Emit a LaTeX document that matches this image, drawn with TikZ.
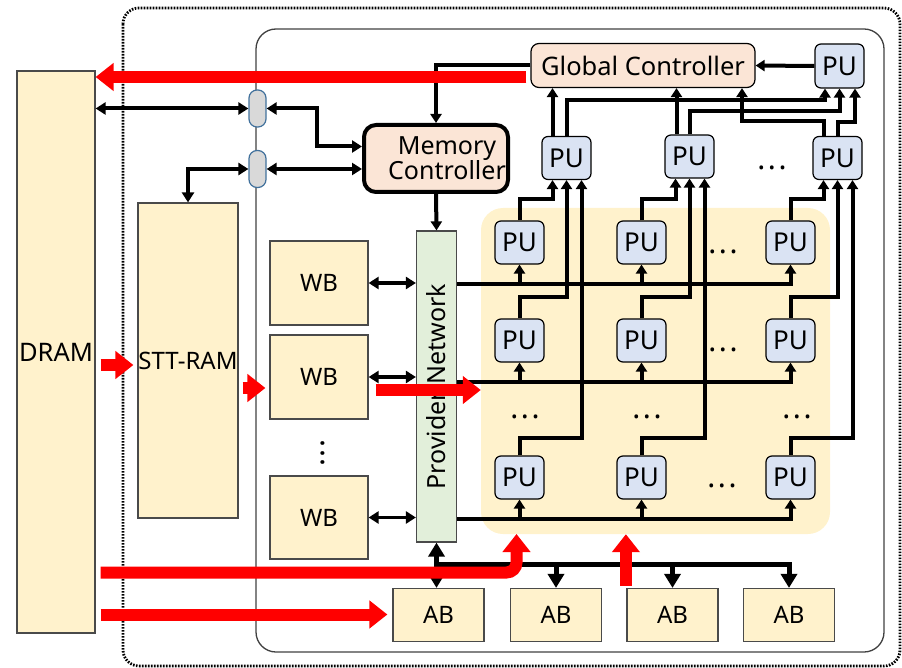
\documentclass[tikz,border=0pt]{standalone}
\usepackage{fontspec}
\setmainfont{Noto Sans}
\usepackage{graphicx}
\usetikzlibrary{arrows.meta}
\definecolor{bufyellow}{HTML}{FFF2CC}
\definecolor{ctrlpink}{HTML}{FBE5D6}
\definecolor{publue}{HTML}{DAE3F3}
\definecolor{netgreen}{HTML}{E2EFDA}
\definecolor{portgray}{HTML}{D9D9D9}
\definecolor{portedge}{HTML}{41719C}
\definecolor{boxedge}{HTML}{4A4A4A}
\newcommand{\bigfont}{\fontsize{24}{25}\selectfont}
\newcommand{\threedots}[1][2.5pt]{{\fontsize{30}{30}\bfseries.\kern#1.\kern#1.}}

\begin{document}
\begin{tikzpicture}[x=1pt,y=-1pt,font=\bigfont,every node/.style={inner sep=0pt},
  membox/.style={draw=boxedge,line width=1.2pt,fill=bufyellow},
  pu/.style={draw,line width=1.2pt,fill=publue,rounded corners=6pt,minimum width=49pt,minimum height=43pt,font=\fontsize{26}{26}\selectfont},
  ctrl/.style={draw,line width=1.2pt,fill=ctrlpink,rounded corners=8pt},
  port/.style={draw=portedge,line width=1.2pt,fill=portgray,rounded corners=8pt,minimum width=17pt,minimum height=37pt},
  wirearrow/.style={line width=4pt,-{Triangle[length=9pt,width=11pt]}},
  dblarrow/.style={line width=4pt,{Triangle[length=10pt,width=12pt]}-{Triangle[length=10pt,width=12pt]}},
  busarrow/.style={line width=5pt,-{Triangle[length=14pt,width=16pt]}},
  redarrow/.style={draw=red,line width=12pt,-{Triangle[length=18pt,width=27pt]}}]
\useasboundingbox (0,0) rectangle (902,668);

% frames
\draw[line width=2.8pt,dash pattern=on 1.6pt off 1.4pt,rounded corners=16pt] (123,8) rectangle (900,666);
\draw[line width=1.3pt,draw=black!75,rounded corners=20pt] (256,29) rectangle (884,652);
\node[fill=bufyellow,rounded corners=22pt,minimum width=349pt,minimum height=326pt] (arr) at (655.5,371) {};

% memories and buffers
\node[membox,minimum width=78pt,minimum height=562pt,font=\fontsize{25.5}{26}\selectfont] (dram) at (56,352) {\raisebox{-6pt}{DRAM}};
\node[membox,minimum width=100pt,minimum height=315pt] (stt) at (188,360.5) {STT-RAM};
\node[membox,minimum width=98pt,minimum height=84pt] (wb1) at (319,283) {WB};
\node[membox,minimum width=98pt,minimum height=84pt] (wb2) at (319,377) {WB};
\node[membox,minimum width=98pt,minimum height=83pt] (wb3) at (319,517.5) {WB};
\node at (323,453) {\rotatebox{90}{\threedots[1.2pt]}};
\node[draw=boxedge,line width=1.2pt,fill=netgreen,minimum width=40pt,minimum height=311pt,font=\fontsize{25}{26}\selectfont] (pn) at (436.5,386.5) {\rotatebox{90}{Provider Network}};
\foreach \n/\x in {1/438.5,2/556,3/672.5,4/789}
  \node[membox,minimum width=91pt,minimum height=53pt] (ab\n) at (\x,615) {AB};

% controllers and ports
\node[ctrl,line width=4pt,rounded corners=12pt,minimum width=144pt,minimum height=67pt,align=center,font=\fontsize{25}{25}\selectfont] (mc) at (436,158.5) {\hspace*{22pt}Memory\\\hspace*{22pt}Controller};
\node[ctrl,minimum width=224pt,minimum height=44pt,font=\fontsize{25.5}{26}\selectfont] (gc) at (643,65.5) {Global Controller};
\node[port] (p1) at (257.5,108.5) {};
\node[port] (p2) at (257.5,169) {};

% processing units
\foreach \r/\y in {1/242.5,2/340.5,3/477.5}
  \foreach \c/\x in {1/519.5,2/641.5,3/790.5}
    \node[pu] (a\r\c) at (\x,\y) {PU};
\node[pu] (pA) at (566.5,158) {PU};
\node[pu] (pB) at (689.5,156.5) {PU};
\node[pu] (pC) at (837.5,158) {PU};
\node[pu,minimum height=44pt] (tpu) at (839.5,66) {PU};
\foreach \p in {(772,168),(723,252),(723,350),(722,486),(525,417),(647,417),(797,417)}
  \node at \p {\threedots};

% host side wiring
\draw[dblarrow] (dram.east |- p1) -- (p1.west);
\draw[dblarrow] (p1.east) -- ++(50,0) |- ([yshift=12pt]mc.west);
\draw[dblarrow] (p2.east) -- (p2.east -| mc.west);
\draw[dblarrow] (p2.west) -| (stt.north);
\draw[wirearrow] (gc.west) -| (mc.north);
\draw[wirearrow] (mc.south) -- (pn.north);
\foreach \n in {1,2,3}
  \draw[dblarrow,line width=3.2pt] (wb\n.east) -- (wb\n.east -| pn.west);

% row buses
\foreach \r in {1,2,3} {
  \coordinate (b\r) at ([yshift=-19pt]a\r1.south);
  \draw[wirearrow] (pn.east |- b\r) -| (a\r3.south);
  \draw[wirearrow] (b\r) -- (a\r1.south);
  \draw[wirearrow] (b\r -| a\r2) -- (a\r2.south);
}

% column outputs
\foreach \c/\p in {1/pA,2/pB,3/pC}
  \foreach \r/\dx/\h in {1/-14pt/21,2/0pt/21,3/15pt/17}
    \draw[wirearrow] (a\r\c.north) -- ++(0,-\h) -| ([xshift=\dx]\p.south);

% to global controller
\path ([xshift=-14pt]pA.north) coordinate (oA) ([xshift=-13pt]pB.north) coordinate (oB);
\draw[wirearrow] (oA) -- (oA |- gc.south);
\draw[wirearrow] (oB) -- (oB |- gc.south);
\draw[wirearrow] ([xshift=-14pt]pC.north) -- ++(0,-15) -| ([xshift=99pt]gc.south);
\draw[wirearrow] (pA.north) -- ++(0,-36) -| ([xshift=-14.5pt]tpu.south);
\draw[wirearrow] (pB.north) -- ++(0,-23) -| (tpu.south);
\draw[wirearrow] (pC.north) -- ++(0,-14) -| ([xshift=15.5pt]tpu.south);
\draw[wirearrow] (tpu.west) -- (gc.east);

% bottom bus
\coordinate (bj) at ([yshift=-22pt]pn.south);
\draw[busarrow] (bj) -- (pn.south);
\draw[busarrow] (bj) -- (bj |- ab1.north);
\draw[busarrow] (bj) -| (ab4.north);
\draw[busarrow] (bj -| ab2) -- (ab2.north);
\draw[busarrow] (bj -| ab3) -- (ab3.north);

% data flow
\coordinate (rg) at ([shift={(-4,11.5)}]gc.west);
\coordinate (rd) at ([shift={(5,13)}]dram.east);
\coordinate (rs) at ([shift={(4,27.5)}]stt.east);
\coordinate (rw) at ([shift={(7,13)}]wb2.east);
\coordinate (rb) at ([shift={(5,220.5)}]dram.east);
\coordinate (rb2) at ([shift={(5,262.5)}]dram.east);
\coordinate (rv) at ([shift={(-0.5,-2)}]ab3.north west);
\coordinate (rup) at (516.5,534);
\draw[redarrow] (rg) -- (rg -| dram.east);
\draw[redarrow,shorten >=4pt] (rd) -- (rd -| stt.west);
\draw[redarrow,shorten >=4pt] (rs) -- (rs -| wb2.west);
\draw[redarrow] (rw) -- (rw -| arr.west);
\draw[redarrow,rounded corners=10pt] (rb) -| (rup);
\draw[redarrow,shorten >=5pt] (rb2) -- (rb2 -| ab1.west);
\draw[redarrow] (rv) -- (rv |- arr.south);
\end{tikzpicture}
\end{document}
